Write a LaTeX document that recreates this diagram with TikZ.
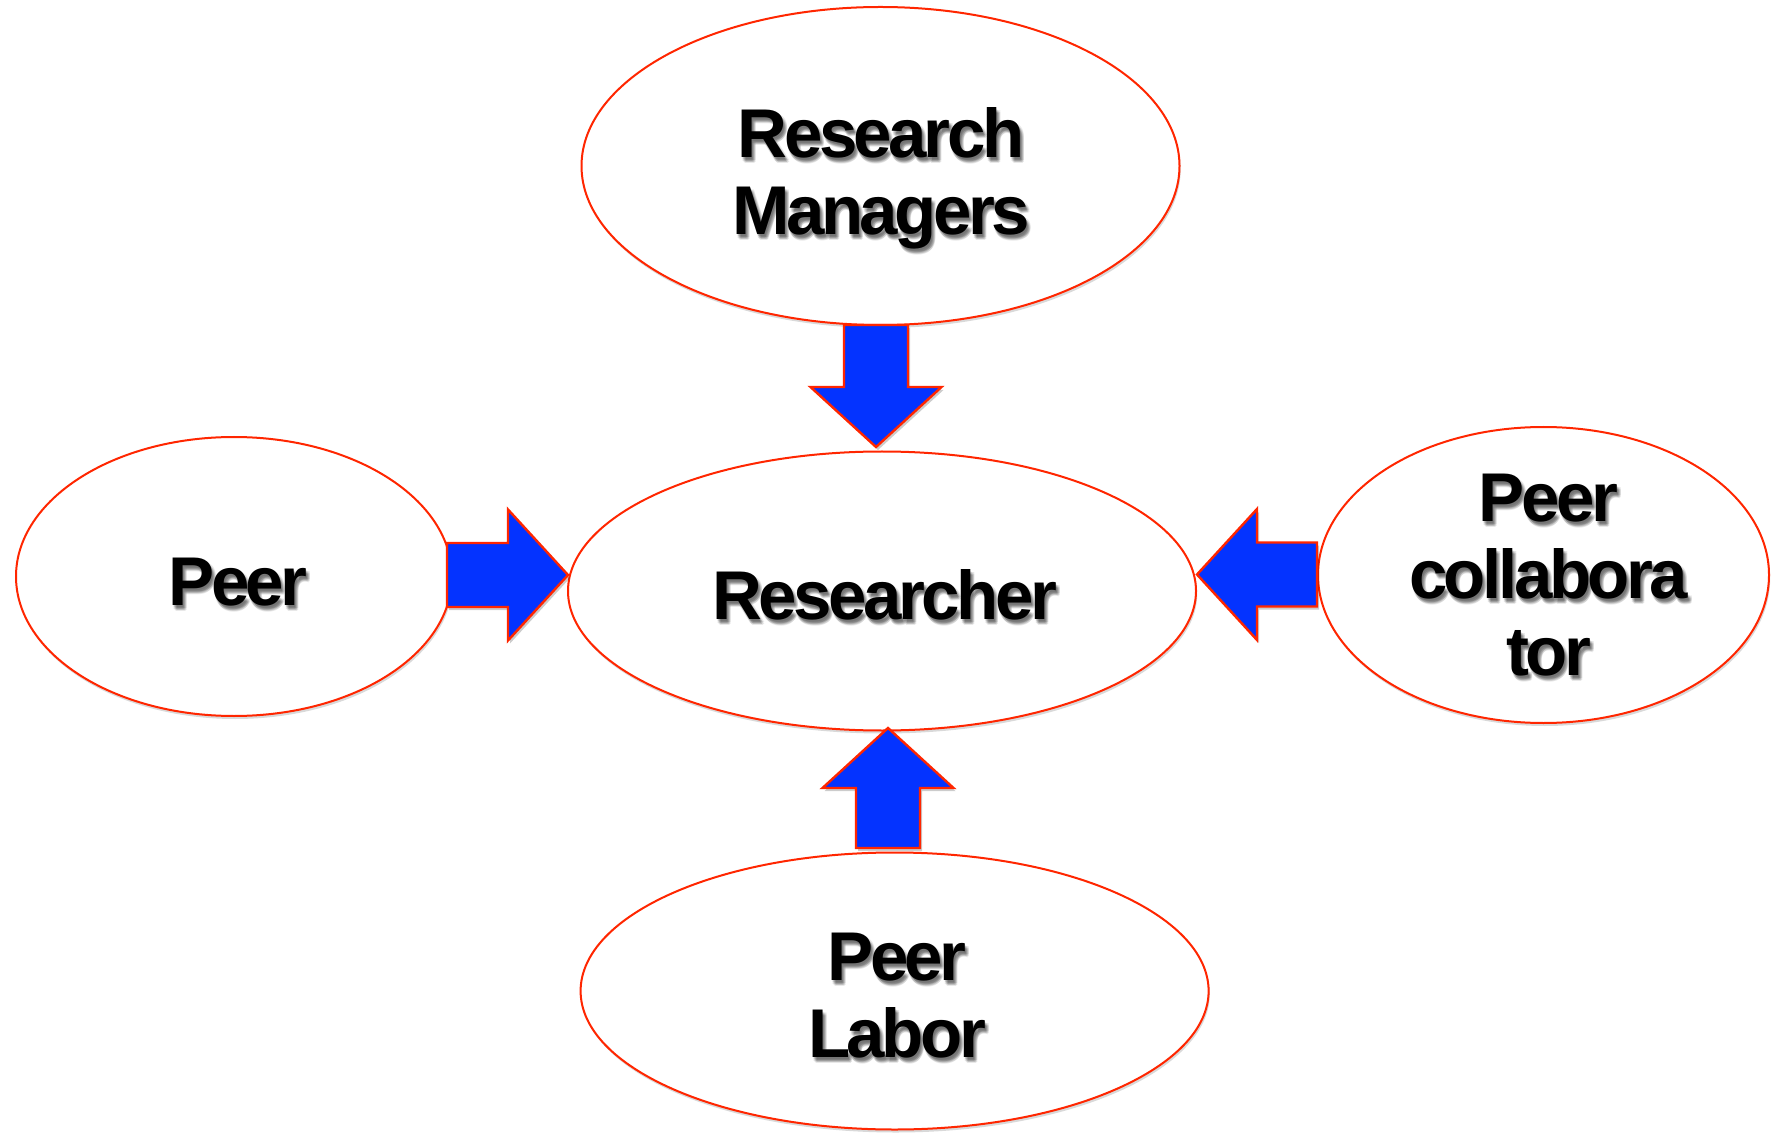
\documentclass[tikz,border=0pt]{standalone}
\usepackage{fontspec}
\setmainfont{Liberation Sans}
\newfontfamily\labfont{Liberation Sans}[LetterSpace=-5]
\usetikzlibrary{shapes.geometric,calc,shadows}
\definecolor{ored}{RGB}{255,38,0}
\definecolor{oblue}{RGB}{4,51,255}
\tikzset{
  oval/.style={ellipse, draw=ored, line width=1pt, fill=white, inner sep=0pt,
    drop shadow={shadow xshift=0.6pt, shadow yshift=-1.5pt, opacity=0.15, fill=black}},
  labtext/.style={font=\labfont\bfseries\fontsize{34.5}{38.5}\selectfont, align=center, inner sep=0pt, text=black},
  labshadow/.style={labtext, text=black, opacity=0.09},
  blockarr/.style={draw=ored, line width=1.2pt, fill=oblue, line join=miter,
    drop shadow={shadow xshift=1pt, shadow yshift=-1.5pt, opacity=0.2, fill=black}},
}
\newcommand\shlabel[3]{%
  \foreach \dx/\dy in {1/2,2/3,3/4,2/5,4/3,3/6,1/4,4/5}{
    \node[labshadow] at ($(#2)+(\dx,\dy)$) {#3};
  }
  \node[labtext] (#1) at (#2) {#3};
}
\newcommand\blockarrow[3]{%
  \coordinate (#3e) at ($(#2)!30pt!(#1)$);
  \path[blockarr] ($(#1)!16pt!90:(#2)$) -- ($(#3e)!16pt!90:(#2)$) -- ($(#3e)!32.75pt!90:(#2)$) -- (#2)
    -- ($(#3e)!32.75pt!-90:(#2)$) -- ($(#3e)!16pt!-90:(#2)$) -- ($(#1)!16pt!-90:(#2)$) -- cycle;
}
\begin{document}
\begin{tikzpicture}[x=0.5pt,y=-0.5pt]
\useasboundingbox (0,0) rectangle (1771,1133);
% ellipses
\node[oval, minimum width=299pt, minimum height=159pt] (rm) at (880.5,166) {};
\node[oval, minimum width=314pt, minimum height=139.5pt] (res) at (882,591) {};
\node[oval, minimum width=218pt, minimum height=139.5pt] (peer) at (234,576.5) {};
\node[oval, minimum width=225.5pt, minimum height=148pt] (pc) at (1543.5,575) {};
\node[oval, minimum width=314pt, minimum height=138.5pt] (pl) at (894.6,991) {};
% arrow ends
\coordinate (a1s) at (876,325);  \coordinate (a1t) at (876,447);
\coordinate (a2s) at (447,575);  \coordinate (a2t) at (568,575);
\coordinate (a3s) at (1317,574.5); \coordinate (a3t) at (1197,574.5);
\coordinate (a4s) at (888,848);  \coordinate (a4t) at (888,728);
\blockarrow{a1s}{a1t}{arrA}
\blockarrow{a2s}{a2t}{arrB}
\blockarrow{a3s}{a3t}{arrC}
\blockarrow{a4s}{a4t}{arrD}
% labels
\shlabel{trm}{881,178}{Research\\Managers}
\shlabel{tres}{884.6,595}{Researcher}
\shlabel{tpeer}{238,582}{Peer}
\shlabel{tpc}{1548.6,575.5}{Peer\\collabora\\tor}
\shlabel{tpl}{897,996}{Peer\\Labor}
\end{tikzpicture}
\end{document}
